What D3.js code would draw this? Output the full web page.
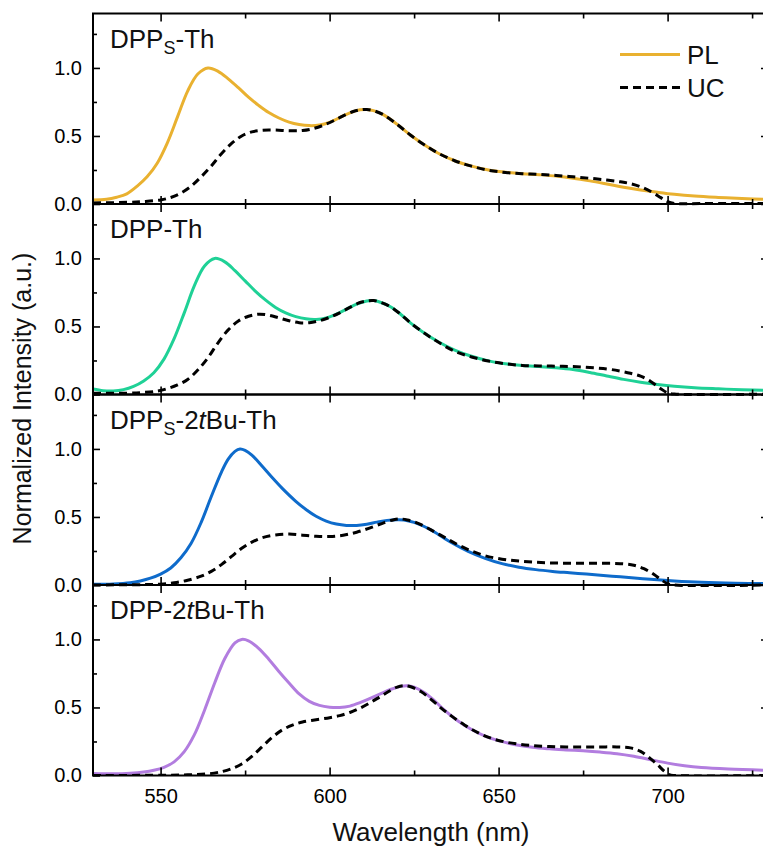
<!DOCTYPE html>
<html>
<head>
<meta charset="utf-8">
<script src="https://cdnjs.cloudflare.com/ajax/libs/d3/7.8.5/d3.min.js"></script>
<style>
  body { margin: 0; background: #fff; }
  svg { display: block; font-family: "Liberation Sans", Arial, sans-serif; }
</style>
</head>
<body>
<svg id="chart" width="763" height="848"></svg>
<script>
// spectra, [wavelength nm, normalized intensity]
var plDPPsTh = [[530,0.03],[534,0.035],[537,0.05],[540,0.075],[543,0.13],[546,0.2],[549,0.3],[552,0.45],[555,0.64],[558,0.83],[561,0.955],[564,1.0],[567,0.975],[570,0.92],[573,0.855],[576,0.785],[579,0.725],[582,0.672],[585,0.632],[588,0.602],[591,0.584],[594,0.576],[597,0.58],[600,0.6],[603,0.635],[606,0.67],[609,0.692],[611,0.695],[613,0.686],[616,0.655],[620,0.585],[624,0.505],[628,0.435],[632,0.375],[637,0.318],[642,0.278],[647,0.25],[652,0.234],[657,0.223],[662,0.215],[667,0.205],[672,0.19],[677,0.17],[682,0.147],[687,0.123],[692,0.103],[697,0.086],[702,0.071],[708,0.058],[715,0.048],[722,0.04],[730,0.033]];
var ucDPPsTh = [[530,0.008],[540,0.012],[545,0.018],[550,0.03],[553,0.048],[556,0.08],[559,0.13],[562,0.2],[565,0.28],[568,0.37],[571,0.445],[574,0.5],[577,0.53],[580,0.542],[584,0.543],[588,0.538],[592,0.54],[595,0.553],[598,0.577],[601,0.61],[604,0.648],[607,0.68],[609,0.692],[611,0.695],[613,0.686],[616,0.655],[620,0.585],[624,0.505],[628,0.435],[632,0.375],[637,0.318],[642,0.278],[647,0.248],[652,0.232],[657,0.223],[662,0.217],[667,0.21],[672,0.2],[677,0.189],[682,0.176],[686,0.163],[689,0.15],[692,0.127],[695,0.092],[698,0.047],[700,0.017],[702,0.004],[710,0.003],[730,0.003]];

var plDPPTh = [[530,0.04],[533,0.028],[536,0.026],[539,0.036],[542,0.06],[545,0.1],[548,0.16],[551,0.26],[554,0.41],[557,0.6],[560,0.8],[563,0.945],[566,1.0],[569,0.975],[572,0.91],[575,0.835],[578,0.76],[581,0.695],[584,0.64],[587,0.6],[590,0.572],[593,0.556],[596,0.552],[599,0.562],[602,0.59],[605,0.627],[608,0.664],[611,0.687],[613,0.69],[615,0.678],[618,0.645],[621,0.59],[624,0.525],[628,0.452],[632,0.39],[637,0.327],[642,0.281],[647,0.247],[652,0.226],[657,0.213],[662,0.205],[667,0.197],[672,0.184],[677,0.162],[682,0.136],[687,0.111],[692,0.09],[697,0.074],[702,0.061],[708,0.05],[715,0.042],[722,0.035],[730,0.03]];
var ucDPPTh = [[530,0.01],[540,0.01],[545,0.015],[549,0.025],[552,0.043],[555,0.07],[558,0.11],[561,0.18],[564,0.27],[567,0.38],[570,0.475],[573,0.54],[576,0.575],[579,0.59],[582,0.583],[585,0.563],[588,0.542],[591,0.528],[594,0.528],[597,0.542],[600,0.567],[603,0.6],[606,0.64],[609,0.676],[611,0.687],[613,0.69],[615,0.678],[618,0.645],[621,0.59],[624,0.525],[628,0.452],[632,0.387],[637,0.318],[642,0.276],[647,0.246],[652,0.226],[657,0.214],[662,0.21],[667,0.208],[672,0.205],[677,0.198],[682,0.188],[686,0.172],[689,0.156],[692,0.135],[695,0.096],[698,0.042],[700,0.012],[702,0.003],[730,0.003]];

var plDPPs2tBuTh = [[530,0.005],[536,0.008],[541,0.017],[544,0.03],[547,0.05],[550,0.08],[553,0.125],[556,0.2],[559,0.305],[562,0.46],[565,0.65],[568,0.83],[570,0.925],[572,0.982],[573.5,1.0],[575,0.99],[577,0.955],[580,0.875],[583,0.79],[586,0.71],[590,0.615],[593,0.555],[596,0.505],[599,0.47],[602,0.448],[605,0.438],[608,0.438],[611,0.447],[614,0.462],[617,0.475],[620,0.48],[622,0.478],[625,0.46],[628,0.43],[631,0.39],[636,0.312],[641,0.247],[646,0.196],[651,0.157],[656,0.131],[661,0.113],[666,0.1],[671,0.09],[676,0.08],[681,0.07],[686,0.06],[691,0.05],[696,0.04],[702,0.03],[710,0.02],[720,0.013],[730,0.01]];
var ucDPPs2tBuTh = [[530,0.0],[545,0.003],[550,0.006],[554,0.016],[558,0.035],[562,0.065],[565,0.1],[568,0.15],[571,0.21],[574,0.27],[577,0.315],[580,0.347],[584,0.368],[588,0.374],[592,0.366],[596,0.358],[600,0.356],[604,0.366],[608,0.388],[612,0.42],[616,0.457],[619,0.48],[621,0.485],[623,0.478],[626,0.455],[630,0.405],[634,0.35],[638,0.295],[642,0.25],[646,0.215],[651,0.19],[656,0.176],[661,0.167],[666,0.162],[671,0.16],[676,0.16],[681,0.16],[686,0.157],[690,0.145],[693,0.12],[696,0.077],[698,0.04],[700,0.01],[702,0.0],[730,0.0]];

var plDPP2tBuTh = [[530,0.015],[536,0.012],[541,0.016],[545,0.025],[548,0.038],[551,0.06],[554,0.1],[557,0.175],[560,0.3],[563,0.48],[566,0.68],[569,0.86],[572,0.975],[574,1.0],[576,0.99],[579,0.935],[582,0.855],[585,0.765],[588,0.68],[591,0.6],[594,0.545],[597,0.515],[600,0.502],[603,0.5],[606,0.51],[609,0.535],[612,0.567],[615,0.6],[618,0.632],[621,0.655],[623,0.66],[625,0.65],[628,0.61],[631,0.55],[634,0.48],[638,0.4],[642,0.338],[646,0.29],[650,0.256],[655,0.226],[660,0.207],[665,0.196],[670,0.188],[675,0.181],[680,0.172],[685,0.16],[690,0.141],[695,0.116],[700,0.091],[705,0.072],[710,0.059],[718,0.048],[730,0.038]];
var ucDPP2tBuTh = [[530,0.0],[550,0.002],[558,0.005],[564,0.012],[568,0.028],[571,0.05],[574,0.085],[577,0.14],[580,0.21],[583,0.28],[586,0.335],[589,0.37],[592,0.393],[596,0.41],[600,0.425],[603,0.44],[606,0.463],[609,0.495],[612,0.535],[615,0.58],[618,0.625],[620,0.65],[622,0.66],[624,0.652],[627,0.617],[630,0.56],[633,0.495],[636,0.438],[640,0.37],[644,0.313],[648,0.272],[652,0.246],[656,0.23],[660,0.22],[665,0.213],[670,0.21],[675,0.21],[680,0.21],[685,0.21],[689,0.203],[692,0.177],[695,0.122],[697,0.08],[699,0.032],[700.5,0.006],[702,0.0],[730,0.0]];

// panel titles as text pieces (sub = subscript, it = italic)
var panelNames = [
  [{t:"DPP"},{t:"S",sub:true},{t:"-Th"}],
  [{t:"DPP-Th"}],
  [{t:"DPP"},{t:"S",sub:true},{t:"-2"},{t:"t",it:true},{t:"Bu-Th"}],
  [{t:"DPP-2"},{t:"t",it:true},{t:"Bu-Th"}]
];
var plColors = ["#E9B130", "#1FD196", "#0E6BCB", "#B27DDF"];
var plSeries = [plDPPsTh, plDPPTh, plDPPs2tBuTh, plDPP2tBuTh];
var ucSeries = [ucDPPsTh, ucDPPTh, ucDPPs2tBuTh, ucDPP2tBuTh];

var xMajor = [550, 600, 650, 700];
var xMinor = [575, 625, 675, 725];
var yMajor = [0, 0.5, 1.0];
var yMinor = [0.25, 0.75, 1.25];
var legendLabels = ["PL", "UC"];

var top0 = 13.5, panelH = 190.5, left = 93, right = 769;

var svg = d3.select("#chart");

var x = d3.scaleLinear()
      .domain([530, 730])
      .range([left, right]);

svg.append("clipPath").attr("id", "clip")
   .append("rect")
   .attr("x", left).attr("y", top0)
   .attr("width", right - left).attr("height", panelH * 4);

panelNames.forEach(function(name, i) {
  var y0 = top0 + i * panelH, y1 = y0 + panelH;
  var y = d3.scaleLinear().domain([0, 1.4]).range([y1, y0]);
  var g = svg.append("g");

  var line = d3.line()
      .x(function(d) { return x(d[0]); })
      .y(function(d) { return y(d[1]); })
      .curve(d3.curveCatmullRom.alpha(0.5));

  g.append("path")
      .datum(plSeries[i])
      .attr("clip-path", "url(#clip)")
      .attr("d", line)
      .style("fill", "none")
      .style("stroke", plColors[i])
      .style("stroke-width", 3);

  g.append("path")
      .datum(ucSeries[i])
      .attr("clip-path", "url(#clip)")
      .attr("d", line)
      .style("fill", "none")
      .style("stroke", "#000")
      .style("stroke-width", 3)
      .style("stroke-dasharray", "8,5");

  // x ticks, bottom and top, pointing inward
  var isLast = i === panelNames.length - 1;
  g.append("g").attr("transform", "translate(0," + y1 + ")")
      .call(d3.axisBottom(x).tickValues(xMajor).tickSize(-8).tickPadding(13)
            .tickFormat(isLast ? d3.format("d") : function() { return ""; }));
  g.append("g").attr("transform", "translate(0," + y1 + ")")
      .call(d3.axisBottom(x).tickValues(xMinor).tickSize(-5).tickFormat(""));
  g.append("g").attr("transform", "translate(0," + y0 + ")")
      .call(d3.axisTop(x).tickValues(xMajor).tickSize(-8).tickFormat(""));
  g.append("g").attr("transform", "translate(0," + y0 + ")")
      .call(d3.axisTop(x).tickValues(xMinor).tickSize(-5).tickFormat(""));

  // y ticks, left and right
  g.append("g").attr("transform", "translate(" + left + ",0)")
      .call(d3.axisLeft(y).tickValues(yMajor).tickSize(-7).tickPadding(11)
            .tickFormat(d3.format(".1f")));
  g.append("g").attr("transform", "translate(" + left + ",0)")
      .call(d3.axisLeft(y).tickValues(yMinor).tickSize(-4).tickFormat(""));
  g.append("g").attr("transform", "translate(" + right + ",0)")
      .call(d3.axisRight(y).tickValues(yMajor).tickSize(-8).tickFormat(""));
  g.append("g").attr("transform", "translate(" + right + ",0)")
      .call(d3.axisRight(y).tickValues(yMinor).tickSize(-4).tickFormat(""));

  g.selectAll(".domain").remove();
  g.selectAll(".tick line").style("stroke", "#000").style("stroke-width", 1.6);
  g.selectAll(".tick text")
      .style("font-family", "'Liberation Sans', Arial, sans-serif")
      .style("font-size", "20px")
      .style("fill", "#000");

  g.append("rect")
      .attr("x", left).attr("y", y0)
      .attr("width", right - left).attr("height", panelH)
      .style("fill", "none")
      .style("stroke", "#000")
      .style("stroke-width", 2);

  // panel title
  var title = g.append("text")
      .attr("x", 110)
      .attr("y", y0 + 34)
      .style("font-size", "26px")
      .style("fill", "#111");
  name.forEach(function(p, k) {
    var ts = title.append("tspan").text(p.t);
    if (p.sub) {
      ts.style("font-size", "18px").attr("dy", 6);
    } else if (p.it) {
      ts.style("font-style", "italic");
    }
    if (k > 0 && name[k - 1].sub) ts.attr("dy", -6);
  });
});

// legend (first panel)
var legend = svg.append("g");
legendLabels.forEach(function(lab, k) {
  var ly = k === 0 ? 54.5 : 87.5;
  legend.append("line")
      .attr("x1", 620).attr("x2", 680)
      .attr("y1", ly).attr("y2", ly)
      .style("stroke", k === 0 ? plColors[0] : "#000")
      .style("stroke-width", 3)
      .style("stroke-dasharray", k === 0 ? null : "8,5");
  legend.append("text")
      .attr("x", 687).attr("y", ly + 9)
      .style("font-size", "26px")
      .style("fill", "#111")
      .text(lab);
});

// axis titles
svg.append("text")
    .attr("x", (left + 769) / 2)
    .attr("y", 841)
    .attr("text-anchor", "middle")
    .style("font-size", "26px")
    .style("fill", "#111")
    .text("Wavelength (nm)");

svg.append("text")
    .attr("transform", "translate(31," + (top0 + 2 * panelH + 4) + ") rotate(-90)")
    .attr("text-anchor", "middle")
    .style("font-size", "25px")
    .style("fill", "#111")
    .text("Normalized Intensity (a.u.)");
</script>
</body>
</html>
